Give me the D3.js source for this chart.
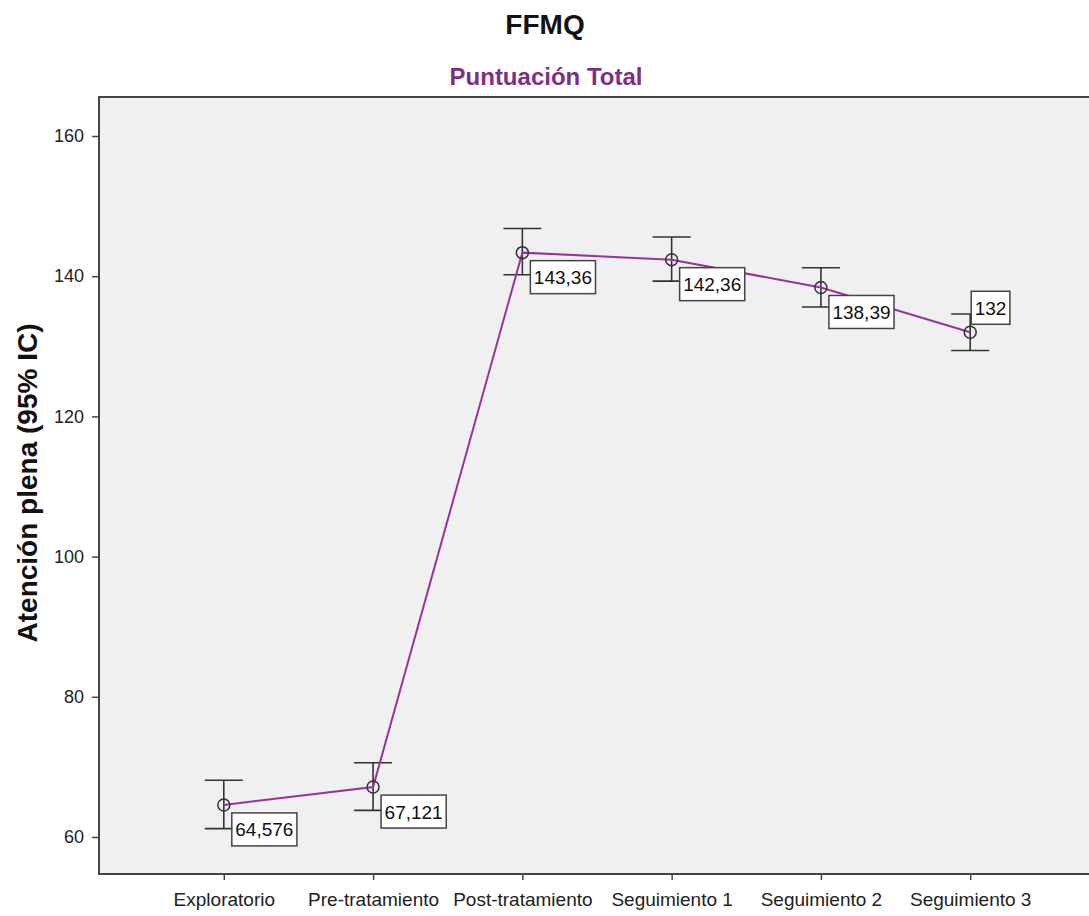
<!DOCTYPE html>
<html><head><meta charset="utf-8">
<script src="https://cdn.jsdelivr.net/npm/d3@7"></script>
<style>body{margin:0;background:#fff;}svg{display:block;font-family:Arial,"Liberation Sans",sans-serif;}</style>
</head><body><svg id="c" width="1089" height="916"></svg>
<script>
const categories = ["Exploratorio","Pre-tratamiento","Post-tratamiento","Seguimiento 1","Seguimiento 2","Seguimiento 3"];
const means = [64.576, 67.121, 143.36, 142.36, 138.39, 132];
const ciLower = [61.2, 63.8, 140.2, 139.3, 135.6, 129.4];
const ciUpper = [68.1, 70.6, 146.8, 145.6, 141.2, 134.6];
const labels = ["64,576","67,121","143,36","142,36","138,39","132"];
const labelAbove = [false,false,false,false,false,true];
const yTicks = [60,80,100,120,140,160];

const svg = d3.select("#c");
const L=99, T=97, R=1095, B=874;
const x = d3.scalePoint().domain(categories).range([L,R]).padding(0.836);
const y = d3.scaleLinear().domain([60,160]).range([837,136]);
const FF = "Arial,'Liberation Sans',sans-serif";

svg.append("rect").attr("x",L).attr("y",T).attr("width",R-L).attr("height",B-T).attr("fill","#f0f0f0");
svg.append("path").attr("d",`M${R},${T}H${L}V${B}H${R}`).attr("fill","none").attr("stroke","#444").attr("stroke-width",2);

// y axis
const ya = svg.append("g").attr("transform",`translate(${L},0)`)
  .call(d3.axisLeft(y).tickValues(yTicks).tickSize(7).tickPadding(8).tickFormat(d3.format("d")));
ya.select(".domain").remove();
ya.selectAll("line").attr("stroke","#444").attr("stroke-width",1.5);
ya.selectAll("text").attr("font-size",18).attr("fill","#222").attr("font-family",FF);

// x axis
const xa = svg.append("g").attr("transform",`translate(0,${B})`)
  .call(d3.axisBottom(x).tickSize(6).tickPadding(13));
xa.select(".domain").remove();
xa.selectAll("line").attr("stroke","#444").attr("stroke-width",1.5);
xa.selectAll("text").attr("font-size",19).attr("fill","#222").attr("font-family",FF);

// error bars
const eb = svg.append("g").attr("stroke","#333").attr("stroke-width",1.6).attr("fill","none");
categories.forEach((c,i)=>{
  const cx=x(c);
  eb.append("line").attr("x1",cx).attr("x2",cx).attr("y1",y(ciLower[i])).attr("y2",y(ciUpper[i]));
  eb.append("line").attr("x1",cx-19).attr("x2",cx+19).attr("y1",y(ciLower[i])).attr("y2",y(ciLower[i]));
  eb.append("line").attr("x1",cx-19).attr("x2",cx+19).attr("y1",y(ciUpper[i])).attr("y2",y(ciUpper[i]));
});

// line
svg.append("path").datum(means)
  .attr("d",d3.line().x((d,i)=>x(categories[i])).y(d=>y(d)))
  .attr("fill","none").attr("stroke","#993399").attr("stroke-width",2);

// circles
svg.append("g").selectAll("circle").data(means).join("circle")
  .attr("cx",(d,i)=>x(categories[i])).attr("cy",d=>y(d)).attr("r",6)
  .attr("fill","none").attr("stroke","#333").attr("stroke-width",1.5);

// labels
const lg = svg.append("g");
means.forEach((m,i)=>{
  const cx=x(categories[i]), cy=y(m);
  const g = lg.append("g");
  const t = g.append("text").text(labels[i]).attr("font-size",19).attr("fill","#111").attr("font-family",FF);
  const w = t.node().getComputedTextLength()+7, h=33;
  let bx = labelAbove[i] ? cx+1 : cx+8;
  let by = labelAbove[i] ? cy-8-h : cy+8;
  g.insert("rect","text").attr("x",bx).attr("y",by).attr("width",w).attr("height",h)
    .attr("fill","#fff").attr("stroke","#444").attr("stroke-width",1.5);
  t.attr("x",bx+3.5).attr("y",by+h/2+7);
});

// titles
svg.append("text").attr("x",545).attr("y",34).attr("text-anchor","middle").attr("font-size",28).attr("font-weight","bold").attr("fill","#111").text("FFMQ");
svg.append("text").attr("x",546).attr("y",85).attr("text-anchor","middle").attr("font-size",24).attr("font-weight","bold").attr("fill","#7e2f85").text("Puntuación Total");
svg.append("text").attr("transform","translate(37,483) rotate(-90)").attr("text-anchor","middle").attr("font-size",28).attr("font-weight","bold").attr("fill","#111").text("Atención plena (95% IC)");
</script></body></html>
